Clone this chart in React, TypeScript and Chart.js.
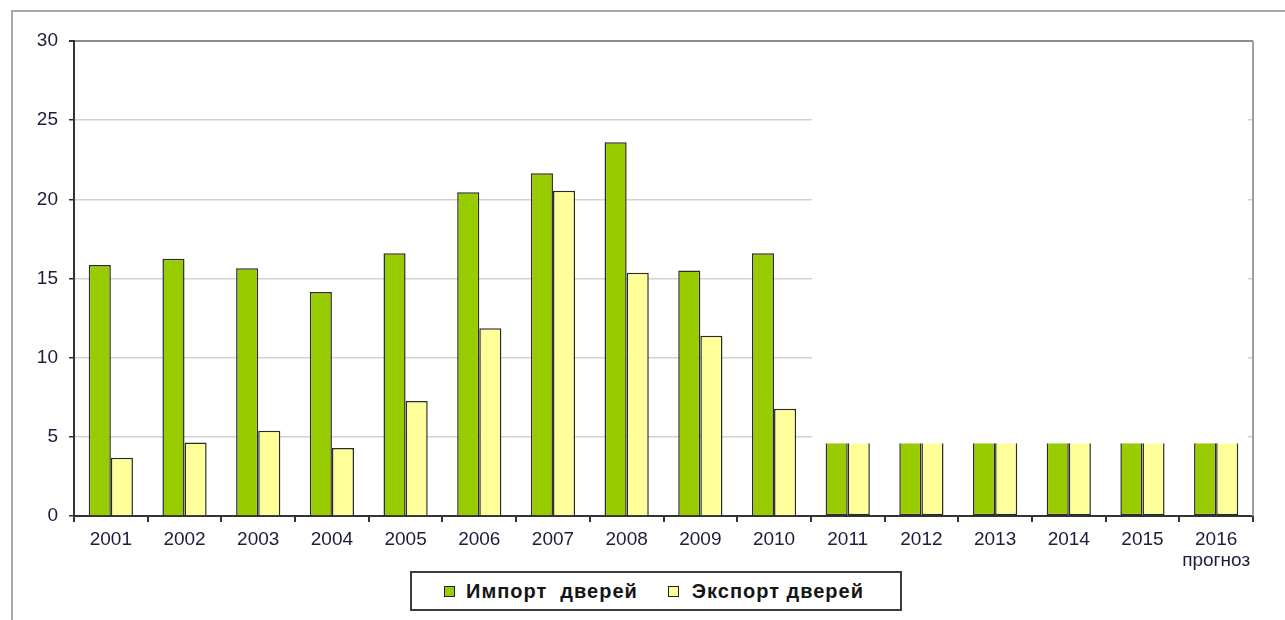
import React, { useEffect, useRef } from "react";
import { Chart, registerables } from "chart.js";

Chart.register(...registerables);

const years: (string | string[])[] = [
  "2001", "2002", "2003", "2004", "2005", "2006", "2007", "2008",
  "2009", "2010", "2011", "2012", "2013", "2014", "2015", ["2016", "прогноз"],
];
const importLabel = "Импорт  дверей";
const exportLabel = "Экспорт дверей";
const importValues = [15.85, 16.25, 15.65, 14.15, 16.6, 20.45, 21.65, 23.6, 15.5, 16.6, 4.6, 4.6, 4.6, 4.6, 4.6, 4.6];
const exportValues = [3.68, 4.65, 5.38, 4.3, 7.26, 11.86, 20.55, 15.37, 11.39, 6.78, 4.6, 4.6, 4.6, 4.6, 4.6, 4.6];
const firstForecastIndex = 10;
const yMin = 0;
const yMax = 30;
const yStep = 5;

const importColor = "#99cc00";
const exportColor = "#ffff99";
const FONT = "'Liberation Sans', Arial, sans-serif";

const maskPlugin = {
  id: "forecastMask",
  beforeDatasetsDraw(chart: any) {
    const { ctx, chartArea, scales } = chart;
    const x = scales.x;
    const y = scales.y;
    const x0 = (x.getPixelForValue(firstForecastIndex - 1) + x.getPixelForValue(firstForecastIndex)) / 2 + 1;
    const x1 = chartArea.right - 5;
    const y0 = chartArea.top + 2;
    const y1 = y.getPixelForValue(importValues[firstForecastIndex]);
    ctx.save();
    ctx.fillStyle = "#ffffff";
    ctx.fillRect(x0, y0, x1 - x0, y1 - y0);
    ctx.restore();
  },
  afterDatasetsDraw(chart: any) {
    const { ctx, chartArea } = chart;
    ctx.save();
    ctx.strokeStyle = "#a0a0a0";
    ctx.lineWidth = 2;
    ctx.beginPath();
    ctx.moveTo(chartArea.right, chartArea.top);
    ctx.lineTo(chartArea.right, chartArea.bottom);
    ctx.stroke();
    ctx.restore();
  },
};

export default function App() {
  const canvasRef = useRef<HTMLCanvasElement | null>(null);

  useEffect(() => {
    if (!canvasRef.current) return;
    const skip = (c: any) => (c.dataIndex >= firstForecastIndex ? "top" : "start");
    const chart = new Chart(canvasRef.current, {
      type: "bar",
      data: {
        labels: years,
        datasets: [
          {
            label: importLabel,
            data: importValues,
            backgroundColor: importColor,
            borderColor: "#2b2b2b",
            borderWidth: 1.5,
            borderSkipped: skip as any,
            categoryPercentage: 0.6,
            barPercentage: 1.0,
          },
          {
            label: exportLabel,
            data: exportValues,
            backgroundColor: exportColor,
            borderColor: "#2b2b2b",
            borderWidth: 1.5,
            borderSkipped: skip as any,
            categoryPercentage: 0.6,
            barPercentage: 1.0,
          },
        ],
      },
      options: {
        animation: false,
        responsive: false,
        events: [],
        layout: { padding: { left: 0, right: 32, top: 41, bottom: 40 } },
        plugins: {
          legend: { display: false },
          tooltip: { enabled: false },
        },
        scales: {
          x: {
            grid: {
              offset: true,
              drawOnChartArea: false,
              tickLength: 6,
              tickColor: "#333333",
              lineWidth: 2,
            },
            border: { color: "#333333", width: 2 },
            ticks: {
              color: "#1c1c3c",
              font: { family: FONT, size: 19, lineHeight: 1.1 },
              padding: 7,
              maxRotation: 0,
              autoSkip: false,
            },
            afterFit: (s: any) => {
              s.height = 64;
            },
          },
          y: {
            min: yMin,
            max: yMax,
            grid: {
              color: (c: any) => (c.tick && c.tick.value === yMax ? "#8c8c8c" : "#d2d2d2"),
              lineWidth: (c: any) => (c.tick && c.tick.value === yMax ? 2 : 1.5),
              tickLength: 5,
              tickColor: "#333333",
            },
            border: { color: "#333333", width: 2 },
            ticks: {
              stepSize: yStep,
              color: "#1c1c3c",
              font: { family: FONT, size: 19 },
              padding: 11,
            },
            afterFit: (s: any) => {
              s.width = 74;
            },
          },
        },
      },
      plugins: [maskPlugin],
    });
    return () => chart.destroy();
  }, []);

  const legendItems = [
    { label: importLabel, color: importColor },
    { label: exportLabel, color: exportColor },
  ];

  return (
    <div style={{ position: "absolute", left: 0, top: 0, width: 1285, height: 620, overflow: "hidden", background: "#fff" }}>
      <div
        style={{
          position: "absolute",
          left: 11,
          top: 10,
          width: 1400,
          height: 800,
          border: "2px solid #a8a8a8",
          boxSizing: "border-box",
        }}
      />
      <canvas ref={canvasRef} width={1285} height={620} style={{ position: "absolute", left: 0, top: 0, width: 1285, height: 620 }} />
      <div
        style={{
          position: "absolute",
          left: 410,
          top: 571,
          width: 492,
          height: 40,
          boxSizing: "border-box",
          border: "2px solid #3c3c3c",
          background: "#fff",
          display: "flex",
          alignItems: "center",
          paddingLeft: 32,
          fontFamily: FONT,
          fontWeight: "bold",
          fontSize: 20,
          color: "#151515",
        }}
      >
        {legendItems.map((it, i) => (
          <div key={i} style={{ display: "flex", alignItems: "center", marginRight: i === 0 ? 30 : 0 }}>
            <span
              style={{
                display: "inline-block",
                width: 11,
                height: 11,
                boxSizing: "border-box",
                border: "1px solid #222",
                background: it.color,
                marginRight: i === 0 ? 11 : 13,
              }}
            />
            <span style={{ whiteSpace: "pre", letterSpacing: 1 }}>{it.label}</span>
          </div>
        ))}
      </div>
    </div>
  );
}
